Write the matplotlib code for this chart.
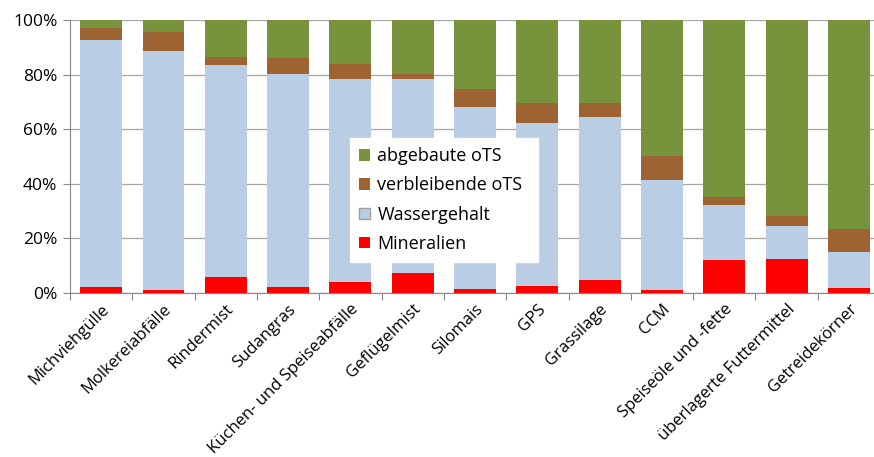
import numpy as np
import matplotlib
matplotlib.use('Agg')
import matplotlib.pyplot as plt
from matplotlib.ticker import PercentFormatter

plt.rcParams['font.family'] = ['Open Sans', 'DejaVu Sans']

# Substrates and their composition in percent.
categories = [
    'Michviehgülle', 'Molkereiabfälle', 'Rindermist', 'Sudangras',
    'Küchen- und Speiseabfälle', 'Geflügelmist', 'Silomais', 'GPS',
    'Grassilage', 'CCM', 'Speiseöle und -fette', 'überlagerte Futtermittel',
    'Getreidekörner',
]
mineralien = [2.2, 1.1, 5.9, 2.2, 3.9, 7.3, 1.6, 2.7, 4.6, 1.2, 12.0, 12.4, 1.7]
wassergehalt = [90.5, 87.7, 77.5, 78.0, 74.6, 71.0, 66.7, 59.5, 60.0, 40.3, 20.2, 12.0, 13.2]
verbleibende_ots = [4.3, 6.7, 3.2, 6.0, 5.3, 1.9, 6.3, 7.6, 5.2, 8.7, 2.9, 3.9, 8.5]
abgebaute_ots = [3.0, 4.5, 13.4, 13.8, 16.2, 19.8, 25.4, 30.2, 30.2, 49.8, 64.9, 71.7, 76.6]

colors = {
    'Mineralien': '#FF0000',
    'Wassergehalt': '#B9CDE5',
    'verbleibende oTS': '#9E6332',
    'abgebaute oTS': '#77933C',
}

fig = plt.figure(figsize=(8.74, 4.57), dpi=100)
ax = fig.add_axes([0.080, 0.359, 0.927, 0.597])

x = np.arange(len(categories))
width = 0.67
bottom = np.zeros(len(categories))
handles = {}
for name, values in [('Mineralien', mineralien), ('Wassergehalt', wassergehalt),
                     ('verbleibende oTS', verbleibende_ots), ('abgebaute oTS', abgebaute_ots)]:
    handles[name] = ax.bar(x, values, width, bottom=bottom, color=colors[name],
                           label=name, zorder=3)
    bottom += np.array(values)

ax.set_xlim(-0.5, len(categories) - 0.5)
ax.set_ylim(0, 100)
ax.set_yticks(range(0, 101, 20))
ax.yaxis.set_major_formatter(PercentFormatter(decimals=0))
ax.grid(axis='y', color='#A6A6A6', linewidth=0.9, zorder=0)

# category ticks sit between the bars
ax.set_xticks(np.arange(len(categories) + 1) - 0.5, minor=False)
ax.set_xticklabels([])
ax.set_xticks(x, minor=True)
ax.set_xticklabels(categories, minor=True, rotation=45, ha='right',
                   rotation_mode='anchor', fontsize=12)
ax.tick_params(axis='x', which='minor', length=0, pad=6)
ax.tick_params(axis='x', which='major', length=5, color='#868686')
ax.tick_params(axis='y', length=5, color='#868686', labelsize=12.5, pad=4)

for side in ['top', 'right']:
    ax.spines[side].set_visible(False)
for side in ['left', 'bottom']:
    ax.spines[side].set_color('#868686')

order = ['abgebaute oTS', 'verbleibende oTS', 'Wassergehalt', 'Mineralien']
leg = ax.legend([handles[n] for n in order], order, loc='lower left',
                bbox_to_anchor=(0.346, 0.114, 0.232, 0.457), mode='expand',
                fontsize=13, frameon=True, fancybox=False, framealpha=1,
                edgecolor='white', handlelength=0.6, handleheight=0.6,
                handletextpad=0.4, labelspacing=0.62, borderpad=0.5,
                borderaxespad=0)
leg.set_zorder(5)
leg.legend_handles[2].set_edgecolor('#A0A0A0')

fig.savefig('out.png', dpi=100)
